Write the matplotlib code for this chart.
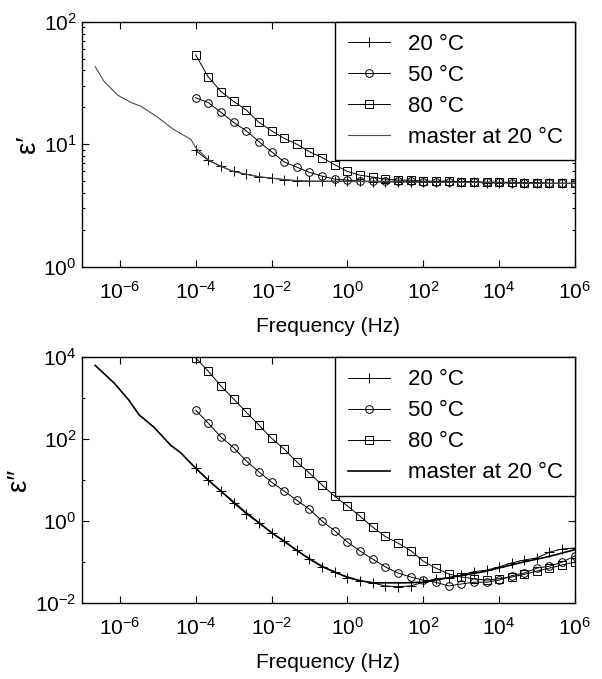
#!/usr/bin/env python3
"""
plot.py
-------
Real and imaginary permittivity vs frequency at 20/50/80 °C,
with the time-temperature master curve shifted to 20 °C.

Output -> out.png
"""

import numpy as np
import matplotlib
matplotlib.use("Agg")
import matplotlib.pyplot as plt
from matplotlib.ticker import FixedLocator, NullFormatter, NullLocator

# ── data ──────────────────────────────────────────────────────────────────────
# measurement frequencies: log10(f), 3 points per decade, 1e-4 .. 1e6 Hz
FREQ_EXP = [-4.0, -3.67, -3.33, -3.0, -2.67, -2.33, -2.0, -1.67, -1.33, -1.0,
            -0.67, -0.33, 0.0, 0.33, 0.67, 1.0, 1.33, 1.67, 2.0, 2.33,
            2.67, 3.0, 3.33, 3.67, 4.0, 4.33, 4.67, 5.0, 5.33, 5.67, 6.0]

# epsilon' (real part)
EPS1_20C = [8.9, 7.4, 6.6, 6.0, 5.7, 5.4, 5.3, 5.15, 5.05, 5.0,
            5.0, 5.0, 5.0, 5.0, 4.95, 4.95, 4.95, 4.95, 4.9, 4.9,
            4.9, 4.9, 4.9, 4.85, 4.85, 4.85, 4.85, 4.8, 4.8, 4.8, 4.8]
EPS1_50C = [24.0, 21.9, 18.2, 15.1, 12.9, 10.5, 8.7, 7.2, 6.5, 5.9,
            5.5, 5.2, 5.1, 5.0, 5.0, 5.0, 5.0, 5.0, 4.95, 4.95,
            4.95, 4.9, 4.9, 4.9, 4.9, 4.85, 4.85, 4.85, 4.8, 4.8, 4.8]
EPS1_80C = [53.7, 35.5, 26.9, 22.4, 19.1, 15.1, 12.9, 11.2, 10.0, 8.7,
            7.8, 6.8, 6.0, 5.6, 5.4, 5.2, 5.1, 5.1, 5.0, 5.0,
            5.0, 4.95, 4.95, 4.9, 4.9, 4.9, 4.85, 4.85, 4.8, 4.8, 4.8]

MASTER1_EXP = [-6.65, -6.41, -6.05, -5.70, -5.44, -5.0, -4.58, -4.13, -4.0,
               -3.67, -3.33, -3.0, -2.67, -2.33, -2.0, -1.67, -1.33, -1.0,
               0.0, 2.0, 4.0, 6.0]
MASTER1_VAL = [43.0, 32.4, 25.1, 21.9, 20.4, 16.6, 13.2, 11.0, 9.4,
               7.5, 6.6, 6.0, 5.7, 5.45, 5.3, 5.15, 5.05, 5.0,
               4.97, 4.92, 4.85, 4.78]

# epsilon'' (imaginary part)
EPS2_20C = [19.5, 10.0, 5.4, 2.75, 1.51, 0.89, 0.52, 0.33, 0.195, 0.117,
            0.076, 0.058, 0.041, 0.035, 0.031, 0.026, 0.025, 0.026, 0.032, 0.039,
            0.041, 0.048, 0.058, 0.063, 0.076, 0.095, 0.112, 0.126, 0.174, 0.209, 0.219]
EPS2_50C = [513, 245, 112, 61.7, 29.5, 15.8, 8.9, 5.4, 3.2, 1.95,
            1.0, 0.575, 0.309, 0.186, 0.117, 0.076, 0.054, 0.043, 0.036, 0.032,
            0.026, 0.029, 0.032, 0.032, 0.036, 0.046, 0.054, 0.071, 0.079, 0.10, 0.14]
EPS2_80C = [9550, 4570, 1950, 955, 457, 219, 105, 57.5, 27.5, 14.8,
            7.6, 4.0, 2.34, 1.32, 0.71, 0.42, 0.29, 0.19, 0.105, 0.071,
            0.051, 0.043, 0.039, 0.036, 0.039, 0.043, 0.050, 0.060, 0.071, 0.085, 0.10]

MASTER2_EXP = [-6.65, -6.15, -5.76, -5.49, -5.10, -4.66, -4.39, -4.0,
               -3.67, -3.33, -3.0, -2.67, -2.33, -2.0, -1.67, -1.33, -1.0,
               -0.67, -0.33, 0.0, 0.33, 0.67, 1.0, 1.5, 2.0, 2.78, 3.6, 4.5, 5.3, 6.0]
MASTER2_VAL = [6300, 2340, 890, 390, 195, 71, 46, 19.5,
               10.0, 5.3, 2.9, 1.6, 0.91, 0.52, 0.32, 0.19, 0.12,
               0.079, 0.056, 0.043, 0.035, 0.031, 0.031, 0.031, 0.032, 0.043,
               0.058, 0.093, 0.135, 0.2]

LABELS = ["20 \u00b0C", "50 \u00b0C", "80 \u00b0C", "master at 20 \u00b0C"]
X_TICKS_EXP = [-6, -4, -2, 0, 2, 4, 6]

# ── style ─────────────────────────────────────────────────────────────────────
plt.rcParams["font.family"] = ["Liberation Sans", "DejaVu Sans"]
plt.rcParams["mathtext.fontset"] = "custom"
plt.rcParams["mathtext.rm"] = "Liberation Sans"
plt.rcParams["mathtext.it"] = "Liberation Sans:italic"
plt.rcParams["mathtext.bf"] = "Liberation Sans:bold"

FS_TICK = 15
FS_LABEL = 15
FS_LEGEND = 16
MS = 5.5


def style_axes(ax, ylim, yticks_exp, yminor):
    ax.set_xscale("log")
    ax.set_yscale("log")
    ax.set_xlim(1e-7, 1e6)
    ax.set_ylim(*ylim)
    ax.set_xticks([10.0 ** e for e in X_TICKS_EXP])
    ax.xaxis.set_minor_locator(NullLocator())
    ax.set_yticks([10.0 ** e for e in yticks_exp])
    ax.yaxis.set_minor_locator(FixedLocator(yminor))
    ax.yaxis.set_minor_formatter(NullFormatter())
    ax.tick_params(which="both", direction="in", top=True, right=True,
                   labelsize=FS_TICK, width=0.8)
    ax.tick_params(which="major", length=5)
    ax.tick_params(which="minor", length=2.5)
    ax.tick_params(axis="x", pad=10)
    ax.tick_params(axis="y", pad=4)
    for sp in ax.spines.values():
        sp.set_linewidth(1.0)
    ax.set_xlabel("Frequency (Hz)", fontsize=FS_LABEL, labelpad=10)


def draw_panel(ax, s20, s50, s80, m_exp, m_val, master_color, master_lw):
    f = [10.0 ** e for e in FREQ_EXP]
    kw = dict(color="black", linewidth=0.7, markerfacecolor="none",
              markeredgewidth=0.7)
    ax.plot(f, s20, marker="+", markersize=7.5, label=LABELS[0], **kw)
    ax.plot(f, s50, marker="o", markersize=MS, label=LABELS[1], **kw)
    ax.plot(f, s80, marker="s", markersize=MS, label=LABELS[2], **kw)
    ax.plot([10.0 ** e for e in m_exp], m_val, color=master_color,
            linewidth=master_lw, label=LABELS[3])
    leg = ax.legend(loc="upper right", fontsize=FS_LEGEND, frameon=True,
                    fancybox=False, edgecolor="black", framealpha=1,
                    borderaxespad=0, handlelength=1.9, labelspacing=0.45,
                    borderpad=0.55, handletextpad=0.8)
    leg.get_frame().set_linewidth(1.0)


def main():
    fig = plt.figure(figsize=(6.02, 6.79), dpi=100)
    ax1 = fig.add_axes([0.136, 0.607, 0.819, 0.361])
    ax2 = fig.add_axes([0.136, 0.112, 0.819, 0.362])

    draw_panel(ax1, EPS1_20C, EPS1_50C, EPS1_80C, MASTER1_EXP, MASTER1_VAL,
               "0.3", 0.8)
    style_axes(ax1, (1, 100), [0, 1, 2],
               [m * 10.0 ** d for d in (0, 1) for m in range(2, 10)])
    ax1.set_ylabel("\u03b5\u2032", fontsize=20, labelpad=2)

    draw_panel(ax2, EPS2_20C, EPS2_50C, EPS2_80C, MASTER2_EXP, MASTER2_VAL,
               "black", 1.2)
    style_axes(ax2, (1e-2, 1e4), [-2, 0, 2, 4], [0.1, 10.0, 1000.0])
    ax2.set_ylabel("\u03b5\u2033", fontsize=20, labelpad=2)

    fig.savefig("out.png", dpi=100)
    plt.close(fig)


if __name__ == "__main__":
    main()
